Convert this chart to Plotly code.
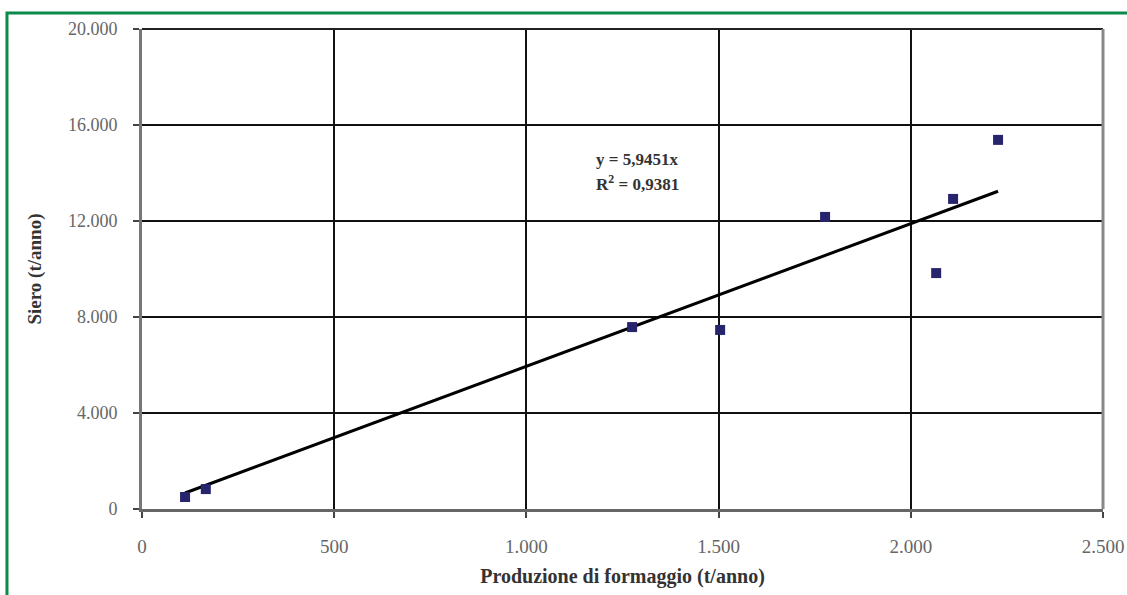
import plotly.graph_objects as go

# Data
formaggio = [112, 166, 1275, 1504, 1777, 2066, 2110, 2227]
siero = [500, 830, 7580, 7460, 12170, 9830, 12920, 15380]
slope = 5.9451
trend_x = [min(formaggio), max(formaggio)]
trend_y = [slope * v for v in trend_x]

x_ticks = [0, 500, 1000, 1500, 2000, 2500]
y_ticks = [0, 4000, 8000, 12000, 16000, 20000]

fig = go.Figure()
fig.add_trace(go.Scatter(x=trend_x, y=trend_y, mode="lines",
                         line=dict(color="black", width=3), showlegend=False))
fig.add_trace(go.Scatter(x=formaggio, y=siero, mode="markers",
                         marker=dict(symbol="square", size=10, color="#27246e",
                                     line=dict(width=0)), showlegend=False))

serif = "Liberation Serif, Times New Roman, serif"

fig.update_layout(
    width=1127, height=595,
    margin=dict(l=142, r=24, t=29, b=86),
    paper_bgcolor="white", plot_bgcolor="white",
    separators=",.",
    font=dict(family=serif, color="#444"),
    xaxis=dict(range=[0, 2500], tickvals=x_ticks, tickformat=",d",
               automargin=False, ticklabeloverflow="allow",
               showgrid=True, gridcolor="#111", gridwidth=2,
               showline=True, linecolor="#666", linewidth=3, mirror=False,
               ticks="outside", ticklen=6, tickcolor="#444", tickwidth=2,
               ticklabelstandoff=12,
               tickfont=dict(size=19, color="#666", family=serif),
               zeroline=False,
               title=dict(text="<b>Produzione di formaggio (t/anno)</b>",
                          font=dict(size=20, color="#333", family=serif), standoff=14)),
    yaxis=dict(range=[0, 20000], tickvals=y_ticks, tickformat=",d",
               automargin=False,
               showgrid=True, gridcolor="#111", gridwidth=2,
               showline=True, linecolor="#777", linewidth=3,
               ticks="outside", ticklen=6, tickcolor="#444", tickwidth=2,
               ticklabelstandoff=12,
               tickfont=dict(size=18, color="#666", family=serif),
               zeroline=False,
               title=dict(text="<b>Siero (t/anno)</b>",
                          font=dict(size=19, color="#333", family=serif), standoff=22)),
    shapes=[
        dict(type="line", xref="paper", yref="paper", x0=0, x1=1, y0=1, y1=1,
             line=dict(color="#222", width=2)),
        dict(type="line", xref="paper", yref="paper", x0=1, x1=1, y0=0, y1=1,
             line=dict(color="#888", width=3)),
        dict(type="rect", xref="paper", yref="paper",
             x0=-0.1405, x1=1.2, y0=-0.4, y1=1.0333,
             line=dict(color="#0b8a4c", width=3), layer="above"),
    ],
    annotations=[
        dict(x=0.47, y=0.728, xref="paper", yref="paper", xanchor="left", yanchor="middle",
             text="<b>y = 5,9451x</b>", align="left", showarrow=False,
             font=dict(size=17, color="#333", family=serif)),
        dict(x=0.47, y=0.68, xref="paper", yref="paper", xanchor="left", yanchor="middle",
             text="<b>R<sup>2</sup> = 0,9381</b>", align="left", showarrow=False,
             font=dict(size=17, color="#333", family=serif)),
    ],
)

fig.write_html("out.html")
